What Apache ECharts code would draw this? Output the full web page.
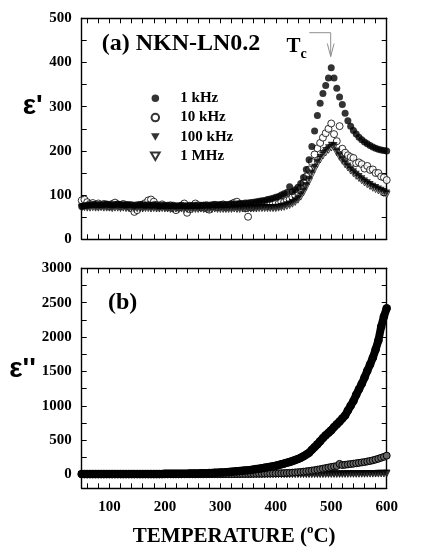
<!DOCTYPE html>
<html>
<head>
<meta charset="utf-8">
<script src="https://cdn.jsdelivr.net/npm/echarts@6.0.0/dist/echarts.min.js"></script>
<style>
html,body{margin:0;padding:0;background:#fff;}
#chart{width:424px;height:554px;}
</style>
</head>
<body>
<div id="chart"></div>
<script>
// Temperatures (°C)
var temps = [
  50,55,60,65,70,75,80,85,90,95,
  100,105,110,115,120,125,130,135,140,145,
  150,155,160,165,170,175,180,185,190,195,
  200,205,210,215,220,225,230,235,240,245,
  250,255,260,265,270,275,280,285,290,295,
  300,305,310,315,320,325,330,335,340,345,
  350,355,360,365,370,375,380,385,390,395,
  400,405,410,415,420,425,430,435,440,445,
  450,455,460,465,470,475,480,485,490,495,
  500,505,510,515,520,525,530,535,540,545,
  550,555,560,565,570,575,580,585,590,595,
  600
];

// (a) real permittivity ε'
var epsR_1k = [
  74,76,77,78,79,78,79,78,79,80,
  79,78,79,80,79,78,78,79,78,77,
  78,79,78,77,78,77,78,77,76,77,
  76,77,76,77,76,76,77,76,76,77,
  76,77,76,77,77,78,77,78,78,78,
  79,78,79,79,80,80,80,81,81,82,
  82,83,84,85,86,87,88,90,91,93,
  95,97,100,103,106,119,108,112,118,126,
  140,158,180,210,245,280,308,330,348,365,
  388,365,342,322,305,285,268,256,246,238,
  231,225,220,216,212,209,206,204,202,201,
  200
];
var epsR_10k = [
  88,90,84,80,82,78,81,76,80,77,
  74,80,83,78,76,80,77,74,70,62,
  66,76,79,82,88,90,85,78,75,79,
  76,73,77,70,66,72,76,81,60,68,
  75,81,77,72,76,70,67,74,78,73,
  76,79,72,75,80,83,85,78,74,70,
  51,72,76,79,77,80,82,78,84,81,
  83,80,85,84,88,90,95,100,107,116,
  128,142,158,175,192,206,218,230,240,250,
  262,238,222,256,205,196,190,186,184,172,
  174,170,160,166,157,158,150,150,142,140,
  134
];
var epsR_100k = [
  73,74,73,73,74,73,73,74,73,73,
  73,72,73,73,72,73,72,72,73,72,
  72,72,71,72,72,71,72,71,71,72,
  71,71,70,71,71,70,71,70,70,71,
  70,70,70,71,70,70,70,70,71,70,
  70,70,70,70,70,71,70,70,71,71,
  71,71,71,71,72,72,72,72,72,72,
  72,73,74,76,78,80,83,87,92,100,
  110,122,136,150,163,175,185,194,201,207,
  213,212,200,190,181,173,166,159,153,147,
  142,137,132,128,124,120,117,114,111,108,
  105
];
var epsR_1M = [
  71,72,71,71,72,71,71,72,71,71,
  71,70,71,71,70,71,70,70,71,70,
  70,70,69,70,70,69,70,69,69,70,
  69,69,68,69,69,68,69,68,68,69,
  68,68,68,69,68,68,68,68,69,68,
  68,68,68,68,68,69,68,68,69,69,
  69,69,69,69,70,70,70,70,70,70,
  70,71,72,73,75,77,80,84,89,96,
  106,118,131,145,158,170,180,189,196,202,
  207,208,196,186,177,169,162,155,149,143,
  138,133,128,124,120,116,113,110,107,104,
  101
];

// (b) imaginary permittivity ε''
var epsI_1k = [
  8,8,7,7,7,7,7,7,7,7,
  7,7,7,7,7,7,7,7,7,8,
  8,8,8,8,8,8,9,9,9,9,
  10,10,10,11,11,12,12,13,13,14,
  15,16,17,18,19,20,22,23,25,27,
  29,31,34,37,40,43,47,51,55,59,
  63,68,73,79,85,91,98,105,112,120,
  128,138,150,160,172,184,196,210,225,244,
  266,290,318,360,400,440,485,530,572,608,
  645,690,730,770,815,860,930,1000,1070,1160,
  1240,1320,1410,1510,1600,1700,1820,1950,2150,2300,
  2420
];
var epsI_10k = [
  4,4,3,3,3,3,3,3,3,3,
  3,3,3,3,3,3,3,3,3,3,
  3,3,3,3,3,3,3,3,3,3,
  3,3,3,3,3,3,3,4,4,4,
  4,4,4,4,4,5,5,5,5,5,
  5,6,6,6,7,7,7,8,8,9,
  9,10,10,11,12,12,13,14,15,16,
  17,18,20,21,23,25,28,31,34,38,
  42,47,52,58,64,71,78,86,94,102,
  110,117,124,155,138,142,148,153,158,164,
  170,176,182,190,198,207,218,230,244,258,
  275
];
var epsI_100k = [
  2,2,2,2,2,2,2,2,2,2,
  2,2,2,2,2,2,2,2,2,2,
  2,2,2,2,2,2,2,2,2,2,
  2,2,2,2,2,2,2,2,2,2,
  2,2,2,2,2,2,2,2,2,2,
  2,2,2,2,2,2,2,2,2,2,
  2,2,2,3,3,3,3,3,3,3,
  3,3,3,3,3,3,4,4,4,4,
  4,5,5,5,5,6,6,6,7,7,
  7,8,8,8,9,9,10,10,11,11,
  12,12,13,14,15,16,17,18,19,20,
  22
];
var epsI_1M = [
  1,1,1,1,1,1,1,1,1,1,
  1,1,1,1,1,1,1,1,1,1,
  1,1,1,1,1,1,1,1,1,1,
  1,1,1,1,1,1,1,1,1,1,
  1,1,1,1,1,1,1,1,1,1,
  1,1,1,1,1,1,1,1,1,1,
  1,1,1,2,2,2,2,2,2,2,
  2,2,2,2,2,2,2,2,3,3,
  3,3,3,3,4,4,4,4,4,5,
  5,5,5,6,6,6,6,7,7,7,
  8,8,8,9,9,9,10,10,11,11,
  12
];

var seriesNames = ['1 kHz', '10 kHz', '100 kHz', '1 MHz'];

// Tick / label values
var xTickVals = [60,80,100,120,140,160,180,200,220,240,260,280,300,320,340,360,380,400,420,440,460,480,500,520,540,560,580,600];
var xLabelVals = [100,200,300,400,500,600];
var yTopTickVals = [0,50,100,150,200,250,300,350,400,450,500];
var yTopLabelVals = [0,100,200,300,400,500];
var yBotTickVals = [0,250,500,750,1000,1250,1500,1750,2000,2250,2500,2750,3000];
var yBotLabelVals = [0,500,1000,1500,2000,2500,3000];

var SERIF = 'Liberation Serif';
var SANS = 'Liberation Sans';

function pairs(vals) {
  return temps.map(function (t, i) { return [t, vals[i]]; });
}

var lineStyle = { color: '#000', width: 1.4 };
var tickStyle = { color: '#000', width: 1 };
var labelStyle = { fontFamily: SERIF, fontWeight: 'bold', fontSize: 15, color: '#000' };
function plain(v) { return String(v); }

function xAxisDef(gridIndex, position, showLabels, name) {
  var a = {
    type: 'value', gridIndex: gridIndex, position: position,
    min: 50, max: 600,
    axisLine: { show: true, onZero: false, lineStyle: lineStyle },
    axisTick: { show: true, inside: true, length: 5, lineStyle: tickStyle, customValues: xTickVals },
    axisLabel: showLabels ? Object.assign({ show: true, margin: 11, customValues: xLabelVals, formatter: plain }, labelStyle) : { show: false },
    splitLine: { show: false }
  };
  if (name) {
    a.name = name;
    a.nameLocation = 'middle';
    a.nameGap = 37;
    a.nameTextStyle = {
      fontFamily: SERIF, fontWeight: 'bold', fontSize: 21, color: '#000',
      rich: {
        m: { fontFamily: SERIF, fontWeight: 'bold', fontSize: 21, color: '#000', lineHeight: 22 },
        s: { fontFamily: SERIF, fontWeight: 'bold', fontSize: 13, color: '#000', lineHeight: 8, padding: [0, 0, 13, 0] }
      }
    };
  }
  return a;
}

function yAxisDef(gridIndex, position, min, max, ticks, labels, name, gap, lh) {
  var a = {
    type: 'value', gridIndex: gridIndex, position: position,
    min: min, max: max,
    axisLine: { show: true, onZero: false, lineStyle: lineStyle },
    axisTick: { show: true, inside: true, length: 5, lineStyle: tickStyle, customValues: ticks },
    axisLabel: labels ? Object.assign({ show: true, margin: 10, customValues: labels, formatter: plain }, labelStyle) : { show: false },
    splitLine: { show: false }
  };
  if (name) {
    a.name = name;
    a.nameLocation = 'middle';
    a.nameRotate = 0;
    a.nameGap = gap;
    a.nameTextStyle = { fontFamily: SANS, fontWeight: 'bold', fontSize: 28, color: '#000', verticalAlign: 'bottom', lineHeight: lh };
  }
  return a;
}

var downTri = 'path://M0,0L10,0L5,8.66Z';
var markerDefs = [
  { symbol: 'circle', symbolSize: 7, itemStyle: { color: '#000' } },
  { symbol: 'circle', symbolSize: 7, itemStyle: { color: '#fff', borderColor: '#000', borderWidth: 1 } },
  { symbol: downTri, symbolSize: 7, itemStyle: { color: '#000' } },
  { symbol: downTri, symbolSize: 6.5, itemStyle: { color: '#fff', borderColor: '#000', borderWidth: 0.9 } }
];

function makeScatter(k, vals, gridIdx) {
  var m = markerDefs[k];
  return {
    type: 'scatter', name: seriesNames[k],
    xAxisIndex: gridIdx * 2, yAxisIndex: gridIdx * 2,
    data: pairs(vals),
    symbol: m.symbol, symbolSize: m.symbolSize,
    itemStyle: m.itemStyle,
    clip: false, silent: true, animation: false
  };
}
// dense measurement bands in (b): markers joined by a thick band
function makeBand(k, vals, symSize, bandWidth, bandColor, symItem) {
  var m = markerDefs[k];
  return {
    type: 'line', name: seriesNames[k],
    xAxisIndex: 2, yAxisIndex: 2,
    data: pairs(vals),
    symbol: m.symbol, symbolSize: symSize,
    showSymbol: true, showAllSymbol: true,
    itemStyle: symItem || m.itemStyle,
    lineStyle: { width: bandWidth, color: bandColor },
    clip: false, silent: true, animation: false
  };
}

var topData = [epsR_1k, epsR_10k, epsR_100k, epsR_1M];
var series = [
  makeScatter(1, topData[1], 0),
  makeScatter(3, topData[3], 0),
  makeScatter(2, topData[2], 0),
  makeScatter(0, topData[0], 0),
  makeScatter(3, epsI_1M, 1),
  makeBand(1, epsI_10k, 7, 4, '#1a1a1a', { color: '#666', borderColor: '#000', borderWidth: 1 }),
  makeScatter(2, epsI_100k, 1),
  makeBand(0, epsI_1k, 8.5, 8, '#000')
];

var chart = echarts.init(document.getElementById('chart'), null, { renderer: 'canvas' });
chart.setOption({
  animation: false,
  backgroundColor: '#fff',
  grid: [
    { left: 81.7, top: 18.3, width: 305, height: 221 },
    { left: 81.7, top: 268.3, width: 305, height: 220 }
  ],
  xAxis: [
    xAxisDef(0, 'bottom', false),
    xAxisDef(0, 'top', false),
    xAxisDef(1, 'bottom', true, '{m|TEMPERATURE (}{s|o}{m|C)}'),
    xAxisDef(1, 'top', false)
  ],
  yAxis: [
    yAxisDef(0, 'left', 0, 500, yTopTickVals, yTopLabelVals, "\u03b5'", 39, 46),
    yAxisDef(0, 'right', 0, 500, yTopTickVals, null),
    yAxisDef(1, 'left', -200, 3000, yBotTickVals, yBotLabelVals, "\u03b5''", 43, 19),
    yAxisDef(1, 'right', -200, 3000, yBotTickVals, null)
  ],
  legend: {
    data: seriesNames,
    orient: 'vertical',
    left: 150, top: 90.8,
    padding: 0,
    itemWidth: 40, itemHeight: 7.5, itemGap: 4.3,
    selectedMode: false,
    textStyle: { fontFamily: SERIF, fontWeight: 'bold', fontSize: 15, lineHeight: 15, color: '#000' }
  },
  graphic: [
    { type: 'text', left: 101.7, top: 32, silent: true,
      style: { text: '(a) NKN-LN0.2', font: 'bold 24px "Liberation Serif"', fill: '#000' } },
    { type: 'text', left: 108, top: 291, silent: true,
      style: { text: '(b)', font: 'bold 24px "Liberation Serif"', fill: '#000' } },
    { type: 'text', left: 286.5, top: 36.5, silent: true,
      style: { text: 'T', font: 'bold 21px "Liberation Serif"', fill: '#000' } },
    { type: 'text', left: 300.5, top: 47, silent: true,
      style: { text: 'c', font: 'bold 14px "Liberation Serif"', fill: '#000' } },
    { type: 'polyline', silent: true,
      shape: { points: [[309.3, 32.7], [330.7, 32.7], [330.7, 56.5]] },
      style: { stroke: '#8f8f8f', lineWidth: 1, fill: null } },
    { type: 'polyline', silent: true,
      shape: { points: [[327.3, 43.5], [330.7, 56.5], [334.1, 43.5]] },
      style: { stroke: '#8f8f8f', lineWidth: 1, fill: null } }
  ],
  series: series
});
</script>
</body>
</html>
